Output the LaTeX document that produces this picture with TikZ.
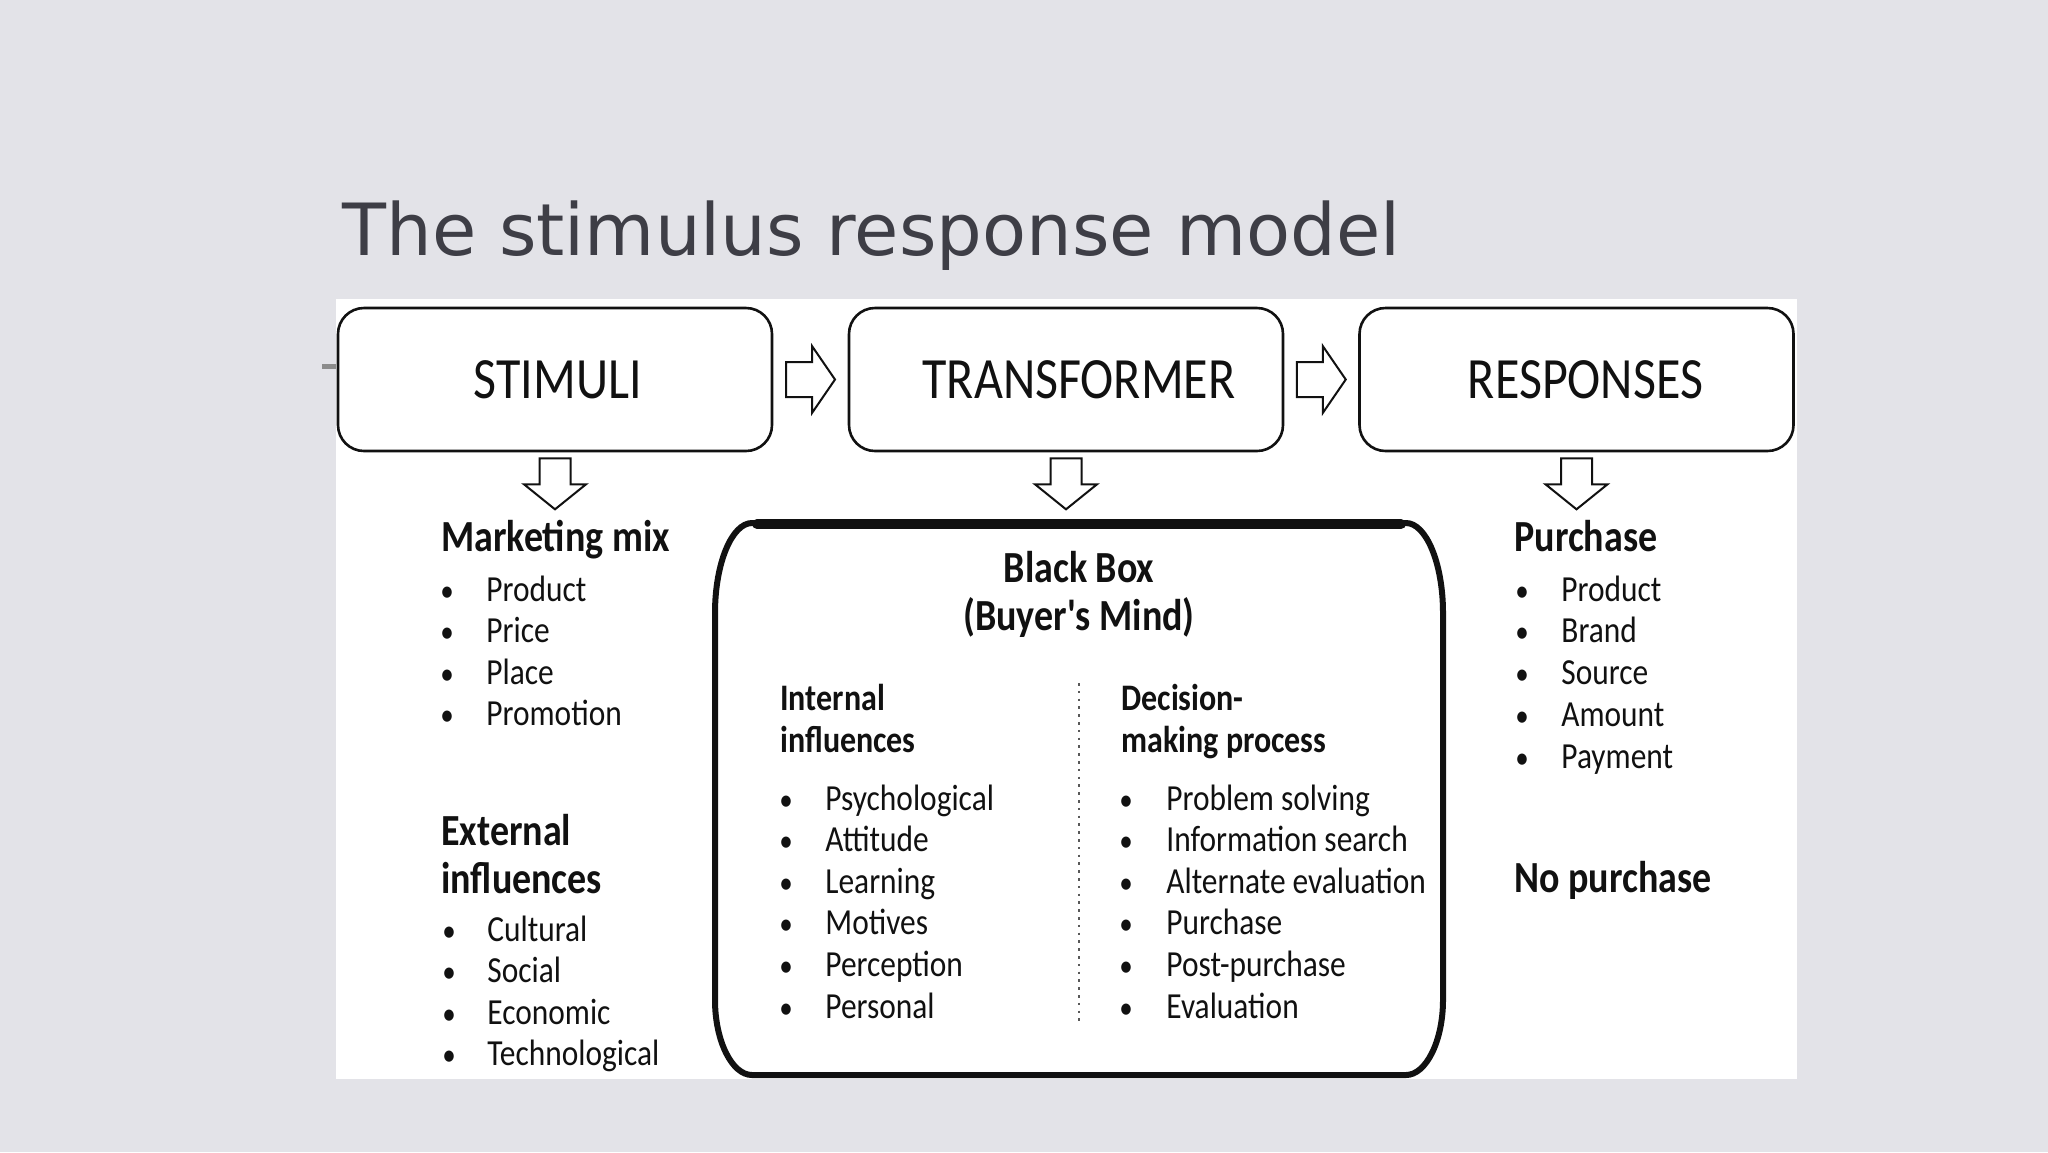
\documentclass[tikz,border=0pt]{standalone}
\usepackage{fontspec}
\usepackage{graphicx}
\newfontfamily\carl{Carlito}
\newfontfamily\titlefont{DejaVu Sans}
\usetikzlibrary{calc}
\definecolor{bgc}{HTML}{E3E3E8}
\definecolor{titc}{HTML}{3E3E46}
\definecolor{ink}{HTML}{111111}
\definecolor{dashc}{HTML}{8C8C8C}
\newcommand{\vst}[1]{\scalebox{1}[1.17]{#1}}
\begin{document}
\begin{tikzpicture}[x=0.5pt,y=-0.5pt,
  every node/.style={inner sep=0pt, text=ink},
  topbox/.style={draw=ink, line width=1.3pt, rounded corners=13pt, fill=white,
    minimum width=217pt, minimum height=71.5pt},
  toplbl/.style={font=\carl\fontsize{25}{30}\selectfont},
  blockarrow/.style={draw=ink, line width=1pt, fill=white, line join=miter},
  itm/.style={anchor=base west, font=\carl\fontsize{15.7}{19}\selectfont},
  bul/.style={anchor=base, font=\carl\fontsize{13.5}{19}\selectfont},
  head/.style={anchor=base west, font=\carl\bfseries\fontsize{19}{23}\selectfont},
  subhead/.style={anchor=base west, font=\carl\bfseries\fontsize{16}{19}\selectfont},
  rarrow/.pic={\draw[blockarrow] (-24.5,-17.5) -- (1.5,-17.5) -- (1.5,-33.5) -- (24.5,0)
     -- (1.5,33.5) -- (1.5,17.5) -- (-24.5,17.5) -- cycle;},
  darrow/.pic={\draw[blockarrow] (-15.5,-25.5) -- (15.5,-25.5) -- (15.5,0.5) -- (31,0.5)
     -- (0,25.5) -- (-31,0.5) -- (-15.5,0.5) -- cycle;}
]
\useasboundingbox (0,0) rectangle (2048,1152);
\fill[bgc] (0,0) rectangle (2048,1152);

% title
\node[anchor=base west, text=titc, font=\titlefont\fontsize{36}{43}\selectfont] (title) at (342,255) {The stimulus response model};

% white panel
\fill[white] (336,299) rectangle (1797,1079);
\draw[dashc, line width=2.5pt] (322,366) -- (336,366);

% top boxes
\node[topbox] (stim) at (555,379.5) {};
\node[topbox] (trans) at (1066,379.5) {};
\node[topbox] (resp) at (1576.5,379.5) {};
\node[toplbl] (stimlbl) at ($(stim.center)+(3,0)$) {\vst{STIMULI}};
\node[toplbl] (translbl) at ($(trans.center)+(13,0)$) {\vst{TRANSFORMER}};
\node[toplbl] (resplbl) at ($(resp.center)+(9,0)$) {\vst{RESPONSES}};

% block arrows
\path ($(stim.east)!0.5!(trans.west)$) pic {rarrow};
\path ($(trans.east)!0.5!(resp.west)$) pic {rarrow};
\path ($(stim.south)+(0,31.5)$) pic {darrow};
\path ($(trans.south)+(0,31.5)$) pic {darrow};
\path ($(resp.south)+(0,31.5)$) pic {darrow};

% black box
\draw[ink, line width=3pt]
  (752,523) -- (1406,523) .. controls (1426,523) and (1443,563) .. (1443,613)
  -- (1443,1000) .. controls (1443,1041) and (1426,1075) .. (1406,1075)
  -- (752,1075) .. controls (732,1075) and (715,1041) .. (715,1000)
  -- (715,613) .. controls (715,563) and (732,523) .. cycle;
\draw[ink, line width=5pt, line cap=round] (757,524) -- (1401,524);

\node[anchor=base, font=\carl\bfseries\fontsize{19}{23}\selectfont] (bbt) at (1079,582) {\vst{Black Box}};
\node[anchor=base, font=\carl\bfseries\fontsize{19}{23}\selectfont] (bbm) at (1079,630) {\vst{(Buyer's Mind)}};

\node[subhead] (int1) at (780,710) {\vst{Internal}};
\node[subhead] (int2) at (780,752) {\vst{influences}};
\node[subhead] (dec1) at (1121,710) {\vst{Decision-}};
\node[subhead] (dec2) at (1121,752) {\vst{making process}};

\coordinate (dtop) at (1079,683);
\coordinate (dbot) at (1079,1025);
\draw[ink!70, line width=1.3pt, dash pattern=on 1.3pt off 2.6pt] (dtop) -- (dbot);

\foreach \t [count=\i] in {Psychological,Attitude,Learning,Motives,Perception,Personal} {
  \node[bul] (ib\i) at (786,{810+41.6*(\i-1)}) {\vst{•}};
  \node[itm] (ii\i) at (825,{810+41.6*(\i-1)}) {\vst{\t}};
}
\foreach \t [count=\i] in {Problem solving,Information search,Alternate evaluation,Purchase,Post-purchase,Evaluation} {
  \node[bul] (db\i) at (1126,{810+41.6*(\i-1)}) {\vst{•}};
  \node[itm] (di\i) at (1166,{810+41.6*(\i-1)}) {\vst{\t}};
}

% left column
\node[head] (mm) at (441,551) {\vst{Marketing mix}};
\foreach \t [count=\i] in {Product,Price,Place,Promotion} {
  \node[bul] (mb\i) at (447,{601+41.5*(\i-1)}) {\vst{•}};
  \node[itm] (mi\i) at (486,{601+41.5*(\i-1)}) {\vst{\t}};
}
\node[head] (ex1) at (441,845) {\vst{External}};
\node[head] (ex2) at (441,893) {\vst{influences}};
\foreach \t [count=\i] in {Cultural,Social,Economic,Technological} {
  \node[bul] (eb\i) at (449,{941+41.6*(\i-1)}) {\vst{•}};
  \node[itm] (ei\i) at (487,{941+41.6*(\i-1)}) {\vst{\t}};
}

% right column
\node[head] (pu) at (1514,551) {\vst{Purchase}};
\foreach \t [count=\i] in {Product,Brand,Source,Amount,Payment} {
  \node[bul] (pb\i) at (1522,{601+41.8*(\i-1)}) {\vst{•}};
  \node[itm] (pi\i) at (1561,{601+41.8*(\i-1)}) {\vst{\t}};
}
\node[head] (np) at (1514,892) {\vst{No purchase}};
\end{tikzpicture}
\end{document}
